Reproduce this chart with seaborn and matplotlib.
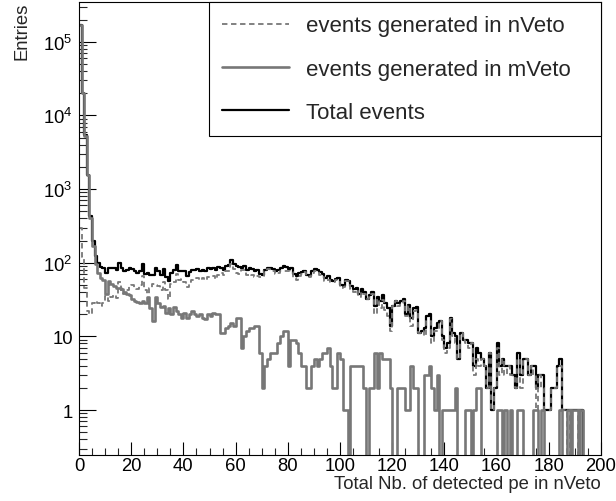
import numpy as np
import pandas as pd
import matplotlib
matplotlib.use("Agg")
import matplotlib.pyplot as plt
import seaborn as sns
from matplotlib.ticker import FixedLocator, MultipleLocator, LogLocator, FuncFormatter, NullFormatter
from matplotlib.lines import Line2D

# ---------------- data (counts per 1-pe bin, 0..200) ----------------
n_bins = 200
x_range = (0, 200)

total_events = [
    170300, 20120, 5345, 1572, 430, 198, 125, 100,
    88, 86, 73, 86, 86, 84, 79, 100, 84, 78, 80, 84, 82, 76, 73, 78, 95, 70, 72, 69, 68, 84,
    76, 67, 81, 63, 56, 72, 80, 92, 78, 78, 76, 65, 75, 80, 80, 81, 78,
    80, 76, 84, 82, 86, 80, 88, 84, 80, 90,
    92, 110, 96, 90, 88, 86, 90, 80, 84, 82,
    78, 80, 70, 68, 80, 86, 84, 82, 76, 80,
    86, 90, 88, 82, 84, 70, 66, 72, 74, 78,
    68, 66, 76, 82, 80, 74, 70, 62, 66, 58,
    56, 60, 62, 50, 48, 58, 56, 48, 44, 46,
    38, 44, 40, 32, 36, 40, 26, 34, 30, 36,
    28, 24, 14, 26, 30, 28,
    30, 32, 20, 27, 18, 24, 25, 11, 12, 13,
    19, 20, 10, 13, 15, 16, 10, 7, 8, 18,
    11, 10, 5, 11, 9, 9, 8, 8, 4, 7,
    6, 5, 4, 2, 6, 1, 2, 8, 4, 5,
    4, 4, 4, 3, 2, 6, 3, 5, 5, 3,
    4, 4, 2, 3, 3, 1, 1, 1, 2, 2,
    4, 5, 1, 1, 1, 1, 1, 1, 1, 1,
    0, 0, 0, 0, 0, 0, 0,
]

nveto_events = [
    300, 120, 45, 22, 20, 28, 30, 28,
    26, 28, 35, 30, 34, 36, 33, 55, 40, 38, 42, 48, 50, 46, 44, 50, 65, 42, 38, 45, 52, 50,
    48, 42, 55, 42, 32, 52, 55, 70, 58, 60, 55, 47, 55, 58, 60, 62, 58,
    62, 59, 64, 63, 65, 60, 68, 73, 69, 77,
    78, 95, 82, 72, 70, 79, 80, 68, 71, 69,
    64, 66, 64, 66, 76, 81, 78, 76, 70, 72,
    76, 78, 76, 78, 75, 61, 58, 66, 70, 74,
    66, 64, 72, 77, 76, 69, 64, 56, 59, 54,
    54, 58, 56, 45, 47, 57, 56, 44, 40, 42,
    34, 40, 38, 32, 34, 38, 20, 32, 24, 31,
    23, 19, 12, 26, 30, 26,
    28, 30, 19, 26, 14, 22, 23, 11, 12, 10,
    16, 16, 8, 12, 12, 16, 9, 6, 7, 17,
    10, 8, 5, 11, 9, 8, 7, 8, 3, 5,
    4, 5, 4, 2, 6, 1, 2, 7, 3, 5,
    3, 4, 3, 3, 2, 5, 2, 5, 5, 3,
    4, 3, 1, 3, 2, 1, 1, 1, 2, 2,
    4, 4, 1, 1, 0, 1, 0, 0, 1, 0,
    0, 0, 0, 0, 0, 0, 0,
]

mveto_events = [
    170000, 20000, 5300, 1550, 410, 170, 95, 72,
    62, 58, 38, 56, 52, 48, 46, 45, 44, 40, 38, 36, 32, 30, 29, 28, 30, 28, 34, 24, 16, 34,
    28, 25, 26, 21, 24, 20, 25, 22, 20, 18, 21, 18, 20, 22, 20, 19, 20,
    18, 17, 20, 19, 21, 20, 20, 11, 11, 13,
    14, 15, 14, 18, 18, 7, 10, 12, 13, 13,
    14, 14, 6, 2, 4, 5, 6, 6, 6, 8,
    10, 12, 12, 4, 9, 9, 8, 6, 4, 4,
    2, 2, 4, 5, 4, 5, 6, 6, 7, 4,
    2, 2, 6, 5, 1, 1, 0, 4, 4, 4,
    4, 4, 2, 0, 2, 2, 6, 2, 6, 5,
    5, 5, 2, 0, 0, 2,
    2, 2, 1, 1, 4, 2, 2, 0, 0, 3,
    3, 4, 2, 1, 3, 0, 1, 1, 1, 1,
    1, 2, 0, 0, 0, 1, 1, 0, 1, 2,
    2, 0, 0, 0, 0, 0, 0, 1, 1, 0,
    1, 0, 1, 0, 0, 1, 1, 0, 0, 0,
    0, 1, 1, 0, 1, 0, 0, 0, 0, 0,
    0, 1, 0, 0, 1, 0, 1, 1, 0, 1,
    0, 0, 0, 0, 0, 0, 0,
]

legend_labels = ["events generated in nVeto", "events generated in mVeto", "Total events"]
x_title = "Total Nb. of detected pe in nVeto"
y_title = "Entries"
y_ticks = [1, 10, 100, 1000, 10000, 100000]

# ---------------- style ----------------
sns.set_style("ticks")
plt.rcParams['font.family'] = ['Liberation Sans', 'DejaVu Sans']
plt.rcParams['mathtext.fontset'] = 'custom'
plt.rcParams['mathtext.rm'] = 'Liberation Sans'
plt.rcParams['mathtext.it'] = 'Liberation Sans:italic'
plt.rcParams['mathtext.bf'] = 'Liberation Sans:bold'

GREY = '#777777'
LW_TOT, LW_N, LW_M = 1.6, 1.3, 1.9

fig = plt.figure(figsize=(6.16, 5.02), dpi=100)
ax = fig.add_axes([79 / 616, 46 / 502, 522 / 616, 453 / 502])

centers = np.arange(n_bins) + 0.5
df = pd.DataFrame({'pe': centers, 'total': total_events,
                   'nveto': nveto_events, 'mveto': mveto_events})

common = dict(data=df, x='pe', bins=n_bins, binrange=x_range, element='step',
              fill=False, ax=ax)
sns.histplot(weights='total', color='black', linewidth=LW_TOT, **common)
sns.histplot(weights='nveto', color=GREY, linewidth=LW_N, linestyle=(0, (3, 2)), **common)
sns.histplot(weights='mveto', color=GREY, linewidth=LW_M, **common)

ax.set_yscale('log')
ax.set_xlim(*x_range)
ax.set_ylim(0.245, 3.46e5)
ax.set_xlabel('')
ax.set_ylabel('')

ax.xaxis.set_major_locator(MultipleLocator(20))
ax.xaxis.set_minor_locator(MultipleLocator(5))
ax.yaxis.set_major_locator(FixedLocator(y_ticks))
ax.yaxis.set_minor_locator(LogLocator(base=10, subs=np.arange(2, 10), numticks=30))
ax.yaxis.set_minor_formatter(NullFormatter())


def yfmt(v, pos):
    if v == 1:
        return '1'
    if v == 10:
        return '10'
    return r'$\mathregular{10^{%d}}$' % int(round(np.log10(v)))


ax.yaxis.set_major_formatter(FuncFormatter(yfmt))

ax.tick_params(axis='x', which='major', direction='in', length=9.4, width=0.8,
               top=False, pad=1.5, labelsize=13.3, colors='black')
ax.tick_params(axis='x', which='minor', direction='in', length=5, width=0.8, top=False)
ax.tick_params(axis='y', which='major', direction='in', length=12, width=0.8,
               right=False, pad=4.5, labelsize=13.3, colors='black')
ax.tick_params(axis='y', which='minor', direction='in', length=6, width=0.8, right=False)

for sp in ax.spines.values():
    sp.set_visible(True)
    sp.set_color('black')
    sp.set_linewidth(0.8)

handles = [Line2D([], [], color=GREY, lw=LW_N, ls=(0, (3, 2))),
           Line2D([], [], color=GREY, lw=LW_M),
           Line2D([], [], color='black', lw=LW_TOT)]
x0 = (209 - 79) / 522
leg = ax.legend(handles, legend_labels, loc='upper left',
                bbox_to_anchor=(x0, 0.0, 1 - x0, 1.0), mode='expand',
                borderaxespad=0, fontsize=16, frameon=True, fancybox=False,
                edgecolor='black', framealpha=1, handlelength=3.0,
                handletextpad=0.75, labelspacing=1.0, borderpad=0.6)
leg.get_frame().set_linewidth(0.8)

fig.text(601 / 616, 1 - 485 / 502, x_title, ha='right', va='center', fontsize=13.3)
fig.text(21.5 / 616, 1 - 3 / 502, y_title, rotation=90, ha='center', va='top', fontsize=13.3)

fig.savefig('out.png', dpi=100)
